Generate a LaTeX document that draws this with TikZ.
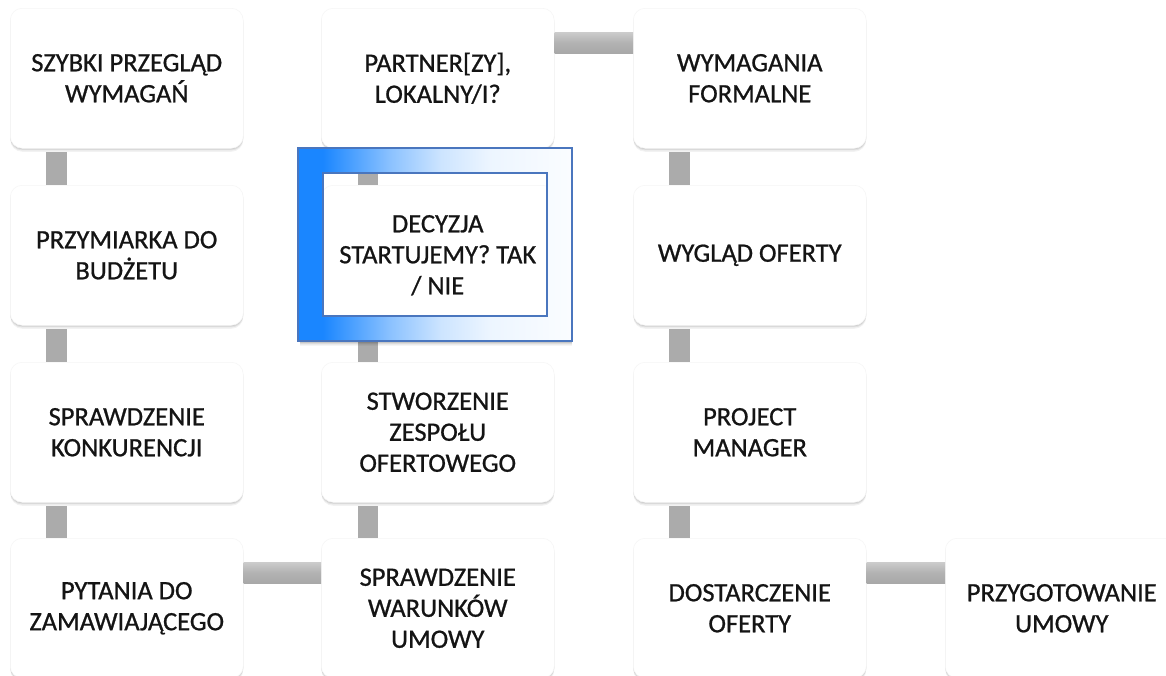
\documentclass[tikz,border=0pt]{standalone}
\usepackage{fontspec}
\setmainfont{Carlito}[FakeBold=0.8]
\usetikzlibrary{shadows}
\definecolor{frameblue}{HTML}{1A86FF}
\definecolor{frameedge}{HTML}{4A76BE}
\definecolor{bargray}{HTML}{ABABAB}
% left-to-right fade of the decision frame (25bp..75bp spans the path)
\pgfdeclarehorizontalshading{framefade}{100bp}{%
  color(0bp)=(frameblue); color(29.5bp)=(frameblue);
  color(42bp)=(frameblue!50!white); color(51bp)=(frameblue!22!white);
  color(60bp)=(frameblue!8!white); color(75bp)=(frameblue!2!white);
  color(100bp)=(frameblue!2!white)}
\tikzset{
  stepbox/.style={draw=black!4, line width=0.5pt, fill=white, rounded corners=12pt,
    minimum width=233pt, minimum height=140pt, anchor=north west, align=center,
    font=\fontsize{26.5}{31}\selectfont, text=black!92,
    general shadow={fill=black, opacity=0.05, shadow yshift=-3.5pt},
    general shadow={fill=black, opacity=0.07, shadow yshift=-2.2pt},
    general shadow={fill=black, opacity=0.08, shadow yshift=-1pt}},
  vbar/.style={fill=bargray},
  hbar/.style={top color=black!20, bottom color=black!34, middle color=black!30},
}
\begin{document}
\begin{tikzpicture}[x=1pt, y=-1pt]
\useasboundingbox (0,0) rectangle (1166,675);
\clip (0,0) rectangle (1166,675);
\fill[white] (0,0) rectangle (1166,675);

% process steps
\node[stepbox] (s1) at (10,8)   {SZYBKI PRZEGLĄD\\WYMAGAŃ};
\node[stepbox] (s2) at (10,185) {PRZYMIARKA DO\\BUDŻETU};
\node[stepbox] (s3) at (10,362) {SPRAWDZENIE\\KONKURENCJI};
\node[stepbox] (s4) at (10,538) {PYTANIA DO\\ZAMAWIAJĄCEGO};
\node[stepbox] (s5) at (321,538) {SPRAWDZENIE\\WARUNKÓW\\UMOWY};
\node[stepbox] (s6) at (321,362) {STWORZENIE\\ZESPOŁU\\OFERTOWEGO};
\node[stepbox] (s7) at (321,185) {DECYZJA\\STARTUJEMY? TAK\\/ NIE};
\node[stepbox] (s8) at (321,8)   {PARTNER[ZY],\\LOKALNY/I?};
\node[stepbox] (s9) at (633,8)   {WYMAGANIA\\FORMALNE};
\node[stepbox] (s10) at (633,185) {WYGLĄD OFERTY};
\node[stepbox] (s11) at (633,362) {PROJECT\\MANAGER};
\node[stepbox] (s12) at (633,538) {DOSTARCZENIE\\OFERTY};
\node[stepbox] (s13) at (945,538) {PRZYGOTOWANIE\\UMOWY};

% connectors filling the gaps between neighbouring steps
\fill[vbar] ([xshift=36pt,yshift=-3pt]s1.south west) rectangle ([xshift=57pt]s2.north west);
\fill[vbar] ([xshift=36pt,yshift=-3pt]s2.south west) rectangle ([xshift=57pt]s3.north west);
\fill[vbar] ([xshift=36pt,yshift=-3pt]s3.south west) rectangle ([xshift=57pt]s4.north west);
\shade[hbar] ([yshift=-24pt]s4.north east) rectangle ([yshift=-45pt]s5.north west);
\fill[vbar] ([xshift=37pt,yshift=-3pt]s6.south west) rectangle ([xshift=57pt]s5.north west);
\fill[vbar] ([xshift=37pt]s7.south west) rectangle ([xshift=57pt]s6.north west);
\fill[vbar] ([xshift=37pt,yshift=-3pt]s8.south west) rectangle ([xshift=57pt]s7.north west);
\shade[hbar] ([yshift=-24pt]s8.north east) rectangle ([yshift=-45pt]s9.north west);
\fill[vbar] ([xshift=36pt,yshift=-3pt]s9.south west) rectangle ([xshift=57pt]s10.north west);
\fill[vbar] ([xshift=36pt,yshift=-3pt]s10.south west) rectangle ([xshift=57pt]s11.north west);
\fill[vbar] ([xshift=36pt,yshift=-3pt]s11.south west) rectangle ([xshift=57pt]s12.north west);
\shade[hbar] ([yshift=-24pt]s12.north east) rectangle ([yshift=-45pt]s13.north west);

% highlight frame around the decision step
\foreach \k/\o in {1/0.22, 2/0.14, 3/0.08, 4/0.04}
  \draw[black, opacity=\o, line width=1pt] (300,341+\k) -- (572,341+\k);
\shade[shading=framefade, even odd rule]
  (298,148) rectangle (572,341) (323,173) rectangle (547,316);
\draw[frameedge, line width=1.3pt] (298,148) rectangle (572,341);
\draw[frameedge, line width=1.3pt] (323,173) rectangle (547,316);
\end{tikzpicture}
\end{document}
